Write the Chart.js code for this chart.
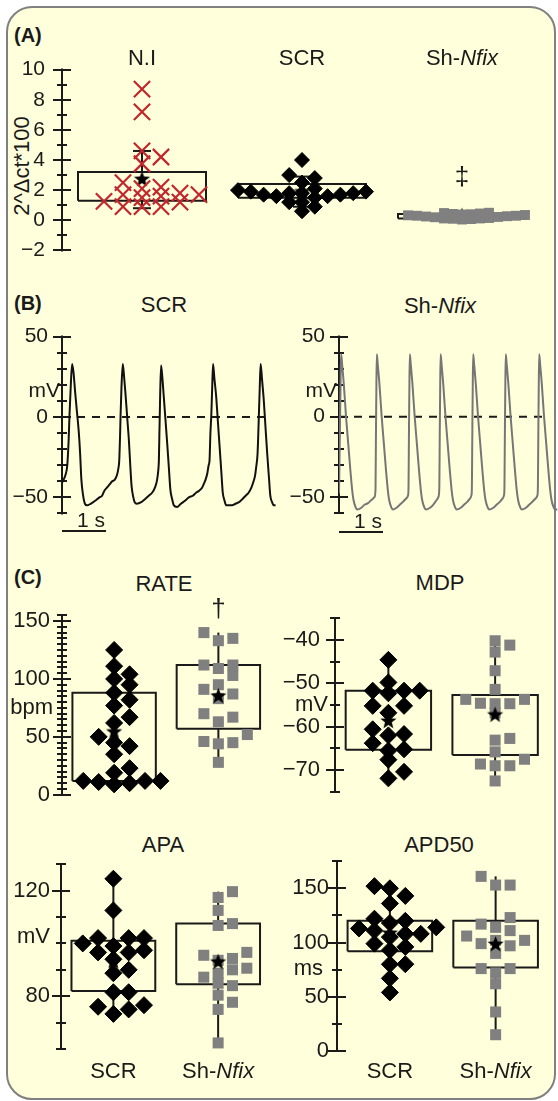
<!DOCTYPE html>
<html>
<head>
<meta charset="utf-8">
<script src="https://cdn.jsdelivr.net/npm/chart.js@4.4.1/dist/chart.umd.min.js"></script>
<style>
  html, body { margin: 0; background: #fff; }
  #fig { position: relative; width: 558px; height: 1101px; overflow: hidden;
         font-family: "Liberation Sans", Arial, sans-serif; color: #1a1a1a; }
  #frame { position: absolute; left: 6px; top: 6px; width: 550px; height: 1094px; box-sizing: border-box;
           border: 2px solid #808080; border-radius: 26px; background: #ffffdb; }
  canvas { position: absolute; }
  .t { position: absolute; font-size: 22px; line-height: 1; white-space: nowrap; transform: translate(-50%, -50%); }
  .p { position: absolute; font-size: 20px; font-weight: bold; line-height: 1; transform: translateY(-50%); }
</style>
</head>
<body>
<div id="fig">
  <div id="frame"></div>
  <div class="p" style="left:14px;top:35px">(A)</div>
  <div class="t" style="left:22px;top:166px;transform:translate(-50%,-50%) rotate(-90deg)">2^Δct*100</div>
  <div class="p" style="left:14px;top:303px">(B)</div>
  <div class="t" style="left:164px;top:305px">SCR</div>
  <div class="t" style="left:440px;top:306px">Sh-<i>Nfix</i></div>
  <div class="p" style="left:14px;top:577px">(C)</div>
  <div class="t" style="left:164px;top:584px">RATE</div>
  <div class="t" style="left:440px;top:583px">MDP</div>
  <div class="t" style="left:163px;top:845px">APA</div>
  <div class="t" style="left:439px;top:845px">APD50</div>
</div>
<script>
const FONT = '"Liberation Sans", Arial, sans-serif';
const INK = '#1a1a1a';
const RED = '#c1272d';
const GREY = '#808080';

// ---- (A) 2^dct*100 ----
const groupsA = ['N.I', 'SCR', 'Sh-Nfix'];
const niA = [8.7, 7.2, 4.6, 4.2, 3.75, 2.5, 2.2, 2.1, 1.8, 1.7, 1.7, 1.6, 1.5, 1.25, 1.2, 0.9, 0.9, 0.9];
const scrA = [4.0, 3.0, 2.8, 2.5, 2.1, 2.0, 1.9, 1.9, 1.8, 1.8, 1.8, 1.7, 1.7, 1.6, 1.6, 1.5, 1.2, 1.2, 0.9, 0.6];
const nfixA = [0.05, 0.08, 0.1, 0.12, 0.12, 0.15, 0.2, 0.22, 0.25, 0.27, 0.3, 0.3, 0.33, 0.35, 0.38, 0.4, 0.42, 0.45, 0.48, 0.5];
// boxes: [lower whisker, Q1, Q3, upper whisker]
const boxNiA = [0.8, 1.3, 3.2, 4.6];
const boxScrA = [0.9, 1.5, 2.4, 2.9];
const boxNfixA = [0.05, 0.12, 0.42, 0.5];
const sigA = [null, null, 2.8];
const ticksA = [-2, 0, 2, 4, 6, 8, 10];

// ---- (B) action potentials, time in s, mV ----
const scrTime = [0,0.08,0.12,0.15,0.17,0.2,0.23,0.26,0.3,0.34,0.38,0.41,0.44,0.48,0.52,0.57,0.65,0.76,0.85,0.91,
  0.96,1.02,1.08,1.14,1.2,1.25,1.28,1.3,1.32,1.33,1.35,1.38,1.41,1.44,1.48,1.52,1.55,1.58,1.62,1.65,
  1.7,1.8,1.89,1.97,2.05,2.11,2.16,2.19,2.2,2.21,2.22,2.23,2.25,2.28,2.31,2.35,2.39,2.43,2.46,2.5,
  2.54,2.61,2.7,2.8,2.88,2.97,3.05,3.11,3.18,3.23,3.26,3.3,3.33,3.35,3.37,3.39,3.41,3.43,3.46,3.5,
  3.54,3.58,3.62,3.65,3.69,3.73,3.79,3.86,3.94,4.02,4.1,4.17,4.24,4.3,4.35,4.38,4.41,4.44,4.46,4.47,
  4.49,4.51,4.54,4.58,4.62,4.66,4.7,4.73,4.77,4.81,4.85];
const scrMv = [-41,-36,-30,-15,1,20,33,28,15,3,-9,-22,-39,-49,-54,-55,-54,-52,-50,-49,
  -46,-44,-42,-40,-39,-36,-32,-27,-10,1,18,33,25,15,0,-15,-30,-43,-50,-53,
  -54,-53,-51,-49,-47,-44,-39,-32,-27,-12,1,15,32,24,13,-2,-17,-33,-45,-51,
  -55,-56,-54,-52,-50,-49,-47,-46,-44,-41,-39,-35,-30,-27,-10,1,18,33,24,13,
  -3,-19,-35,-47,-52,-55,-55,-55,-54,-53,-51,-49,-47,-44,-40,-37,-31,-23,-8,1,
  18,33,24,11,-6,-23,-38,-49,-53,-55,-55];
const nfixTime = [0,0.02,0.04,0.05,0.07,0.11,0.16,0.21,0.26,0.3,0.33,0.37,0.42,0.5,0.58,0.66,0.74,0.81,0.83,0.84,0.85,0.86,
  0.88,0.92,0.97,1.02,1.07,1.11,1.14,1.18,1.23,1.3,1.38,1.46,1.53,1.57,1.58,1.59,1.6,1.61,
  1.63,1.67,1.72,1.77,1.82,1.86,1.89,1.93,1.98,2.06,2.14,2.22,2.26,2.28,2.29,2.3,2.31,
  2.33,2.37,2.42,2.47,2.52,2.56,2.59,2.63,2.68,2.76,2.84,2.92,2.98,3.01,3.02,3.03,3.04,3.05,
  3.07,3.11,3.16,3.21,3.26,3.3,3.33,3.37,3.42,3.5,3.58,3.66,3.72,3.75,3.76,3.77,3.78,3.79,
  3.81,3.85,3.9,3.95,4.0,4.04,4.07,4.11,4.16,4.24,4.32,4.4,4.47,4.51,4.52,4.53,4.54,4.55,
  4.57,4.61,4.66,4.71,4.76,4.8,4.83,4.87,4.92,4.96];
const nfixMv = [-48,-10,30,39,33,20,0,-17,-34,-46,-52,-56,-58,-57,-55,-54,-52,-50,-45,-10,20,39,
  33,20,0,-17,-34,-46,-52,-56,-58,-57,-55,-53,-51,-49,-44,-10,20,39,
  33,20,0,-17,-34,-46,-52,-56,-58,-57,-55,-52,-50,-44,-10,20,39,
  33,20,0,-17,-34,-46,-52,-56,-58,-57,-55,-53,-51,-49,-44,-10,20,39,
  33,20,0,-17,-34,-46,-52,-56,-58,-57,-55,-53,-51,-49,-44,-10,20,39,
  33,20,0,-17,-34,-46,-52,-56,-58,-57,-55,-53,-51,-49,-44,-10,20,39,
  33,20,0,-17,-34,-46,-52,-56,-58,-58];
const zeroScr = [0, 4.68];
const zeroNfix = [0, 4.65];
const ticksB = [-50, 0, 50];

// ---- (C) electrophysiology ----
const groupsC = ['SCR', 'Sh-Nfix'];
const rateScr = [125, 111, 104, 100, 95, 88, 82, 77, 67, 62, 50, 45, 42, 35, 23, 19, 12, 12, 12, 11, 10, 9];
const rateNfix = [140, 135, 133, 112, 112, 109, 103, 95, 91, 87, 83, 70, 67, 63, 52, 46, 45, 44, 28];
const rateBoxScr = [9, 12, 88, 125];
const rateBoxNfix = [28, 57, 112, 140];
const rateSig = [null, 160];
const rateTicks = [0, 50, 100, 150];

const mdpScr = [-44.6, -49.8, -51.7, -51.7, -51.7, -52.3, -55.2, -55.2, -56.8, -60.6, -61.7, -62, -63.8, -65.5, -65.2, -67.6, -70.4, -71.9];
const mdpNfix = [-40.2, -41.2, -42.8, -47.1, -51.4, -53.7, -53.7, -54.6, -54.7, -54.7, -56.8, -62.7, -63.1, -65.8, -67.5, -68.6, -69, -69, -72.5];
const mdpBoxScr = [-72, -65.3, -51.7, -44.6];
const mdpBoxNfix = [-72.5, -66.5, -52.7, -41.2];
const mdpTicks = [-70, -60, -50, -40];

const apaScr = [124.5, 112.5, 102, 102, 102, 100, 99, 97.4, 96.6, 96.6, 94, 90, 88.7, 81.5, 81.5, 76.6, 76, 75, 73.3];
const apaNfix = [119.6, 117.4, 112.5, 107.5, 106.8, 96.6, 95.5, 94.3, 93.6, 90.6, 90, 88.7, 87.2, 84.9, 84, 80.4, 77.7, 75, 62.3];
const apaBoxScr = [73.3, 82, 101, 124.5];
const apaBoxNfix = [62.3, 84.5, 107.5, 119.6];
const apaTicks = [80, 120];

const apdScr = [152, 150, 143, 136, 122, 120, 118, 114, 113, 111, 108, 108, 105, 99, 96, 93, 80, 80, 67, 54];
const apdNfix = [161, 153, 153, 123, 117, 114, 111, 106, 102, 102, 99, 97, 90, 76, 76, 72, 62, 36, 15];
const apdBoxScr = [54, 92, 120, 152];
const apdBoxNfix = [15, 77, 120, 161];
const apdTicks = [0, 50, 100, 150];

// ---------------------------------------------------------------
const fig = document.getElementById('fig');

function fmt(v) { return v < 0 ? '\u2212' + Math.abs(v) : String(v); }

function starImage(r) {
  const c = document.createElement('canvas');
  const s = Math.ceil(r * 2 + 2);
  c.width = c.height = s;
  const g = c.getContext('2d');
  g.fillStyle = '#000';
  g.beginPath();
  for (let i = 0; i < 10; i++) {
    const rr = i % 2 ? r * 0.42 : r;
    const a = -Math.PI / 2 + i * Math.PI / 5;
    g.lineTo(s / 2 + rr * Math.cos(a), s / 2 + rr * Math.sin(a));
  }
  g.closePath();
  g.fill();
  return c;
}
const STAR = starImage(8.5);

const MK = {
  cross:    { style: 'crossRot', r: 11.5, fill: 'rgba(0,0,0,0)', line: RED, bw: 2.2, dx: 19, dy: 9.5 },
  diamondA: { style: 'rectRot', r: 7.5, fill: '#000', line: '#000', bw: 1, dx: 12.8, dy: 9.5 },
  squareA:  { style: 'rect', r: 7, fill: GREY, line: GREY, bw: 0, dx: 9, dy: 4.8 },
  diamond:  { style: 'rectRot', r: 8.5, fill: '#000', line: '#000', bw: 1, dx: 16, dy: 10 },
  square:   { style: 'rect', r: 7.8, fill: GREY, line: GREY, bw: 0, dx: 15, dy: 10 }
};

// simple beeswarm: spread equal-ish values sideways into slots
function swarm(values, center, dx, dy) {
  const idx = values.map((v, i) => i).sort((a, b) => values[a] - values[b]);
  const taken = [];
  const pts = [];
  idx.forEach(i => {
    const v = values[i];
    let k = 0, s = 0;
    while (true) {
      s = k === 0 ? 0 : (k % 2 ? (k + 1) / 2 : -k / 2);
      if (!taken.some(t => t.s === s && Math.abs(t.v - v) < dy)) break;
      k++;
    }
    taken.push({ s, v });
    pts.push({ x: center + s * dx, y: v });
  });
  return pts;
}

function seg(pts) {
  return { data: pts, showLine: true, borderColor: INK, borderWidth: 2, pointRadius: 0, order: 4, clip: false };
}

// starUnder: mean star drawn beneath the markers (panel A) instead of on top
function groupSets(values, box, c, mk, kx, ky, capPx, starUnder) {
  const [lo, q1, q3, hi] = box;
  const hw = 0.4;
  const sets = [
    seg([{x: c - hw, y: q1}, {x: c + hw, y: q1}, {x: c + hw, y: q3}, {x: c - hw, y: q3}, {x: c - hw, y: q1}]),
    seg([{x: c, y: q3}, {x: c, y: hi}]),
    seg([{x: c, y: q1}, {x: c, y: lo}])
  ];
  if (capPx) {
    const cw = capPx / kx;
    sets.push(seg([{x: c - cw, y: hi}, {x: c + cw, y: hi}]), seg([{x: c - cw, y: lo}, {x: c + cw, y: lo}]));
  }
  sets.push({
    data: swarm(values, c, mk.dx / kx, mk.dy / ky),
    pointStyle: mk.style, pointRadius: mk.r, pointBackgroundColor: mk.fill,
    pointBorderColor: mk.line, pointBorderWidth: mk.bw, order: 2, clip: false
  });
  const mean = values.reduce((a, b) => a + b, 0) / values.length;
  sets.push({ data: [{x: c, y: mean}], pointStyle: STAR, pointRadius: 8, order: starUnder ? 3 : 1, clip: false });
  return sets;
}

function traceSets(t, v, zero, color) {
  return [
    { data: t.map((x, i) => ({x, y: v[i]})), showLine: true, borderColor: color, borderWidth: 2,
      pointRadius: 0, cubicInterpolationMode: 'monotone', order: 1 },
    { data: zero.map(x => ({x, y: 0})), showLine: true, borderColor: INK, borderWidth: 2,
      borderDash: [8, 7], pointRadius: 0, order: 2 }
  ];
}

// crossing y axis, unit label, significance marks, time bar
function makeDecor(d) {
  return {
    id: 'decor',
    beforeDatasetsDraw(chart) {
      const ys = chart.scales.y, ctx = chart.ctx;
      const ax = Math.round(ys.right);
      ctx.save();
      ctx.strokeStyle = INK; ctx.lineWidth = 2;
      ctx.beginPath();
      ctx.moveTo(ax, ys.getPixelForValue(ys.max) - 1);
      ctx.lineTo(ax, ys.getPixelForValue(ys.min) + 1);
      ys.ticks.forEach(t => {
        const py = Math.round(ys.getPixelForValue(t.value));
        const L = d.labels.includes(t.value) ? 9 : 5;
        ctx.moveTo(ax - L, py); ctx.lineTo(ax + L, py);
      });
      ctx.stroke();
      if (d.unit) {
        ctx.fillStyle = INK;
        ctx.font = d.fs + 'px ' + FONT;
        ctx.textAlign = 'right'; ctx.textBaseline = 'middle';
        ctx.fillText(d.unit.text, ax - d.unit.gap, ys.getPixelForValue(d.unit.value));
      }
      ctx.restore();
    },
    afterDatasetsDraw(chart) {
      const xs = chart.scales.x, ys = chart.scales.y, ctx = chart.ctx;
      ctx.save();
      ctx.fillStyle = INK; ctx.strokeStyle = INK;
      if (d.marks) {
        ctx.font = '26px ' + FONT;
        ctx.textAlign = 'center'; ctx.textBaseline = 'middle';
        d.marks.forEach((v, i) => {
          if (v === null) return;
          ctx.fillText(d.markText, xs.getPixelForValue(i), ys.getPixelForValue(v));
        });
      }
      if (d.bar) {
        const x0 = xs.getPixelForValue(0), x1 = xs.getPixelForValue(d.bar.len);
        const by = Math.round(ys.getPixelForValue(ys.min) + d.bar.dy);
        ctx.lineWidth = 2;
        ctx.beginPath(); ctx.moveTo(x0, by); ctx.lineTo(x1, by); ctx.stroke();
        ctx.font = d.fs + 'px ' + FONT;
        ctx.textAlign = 'right'; ctx.textBaseline = 'alphabetic';
        ctx.fillText(d.bar.text, x1 - 1, by - 4);
      }
      ctx.restore();
    }
  };
}

function makeChart(spec) {
  const cv = document.createElement('canvas');
  cv.width = spec.w; cv.height = spec.h;
  cv.style.left = spec.left + 'px'; cv.style.top = spec.top + 'px';
  fig.appendChild(cv);
  const kx = (spec.xRight - spec.axisX) / (spec.x[1] - spec.x[0]);
  const ky = (spec.yBot - spec.yTop) / (spec.y[1] - spec.y[0]);
  const d = spec.decor;
  const chart = new Chart(cv, {
    type: 'scatter',
    data: { datasets: spec.build(kx, ky) },
    options: {
      responsive: false, animation: false, events: [],
      layout: { padding: { left: 0, top: spec.yTop - spec.top,
                           bottom: spec.top + spec.h - spec.yBot,
                           right: spec.left + spec.w - spec.xRight } },
      plugins: { legend: { display: false }, tooltip: { enabled: false } },
      scales: {
        x: { type: 'linear', display: false, min: spec.x[0], max: spec.x[1] },
        y: {
          type: 'linear', min: spec.y[0], max: spec.y[1],
          afterFit: s => { s.width = spec.axisX - spec.left; },
          grid: { display: false, drawTicks: false },
          border: { display: false },
          ticks: { stepSize: spec.step, autoSkip: false, maxTicksLimit: 200, padding: spec.pad,
                   font: { family: FONT, size: d.fs }, color: INK,
                   callback: v => d.labels.includes(v) ? fmt(v) : '' }
        }
      }
    },
    plugins: [makeDecor(d)]
  });
  if (spec.groups) {
    spec.groups.forEach((g, i) => {
      const el = document.createElement('div');
      el.className = 't';
      el.style.left = (spec.left + chart.scales.x.getPixelForValue(i)) + 'px';
      el.style.top = spec.labelY + 'px';
      const p = g.indexOf('-');
      if (p > 0) { el.textContent = g.slice(0, p + 1); const it = document.createElement('i'); it.textContent = g.slice(p + 1); el.appendChild(it); }
      else el.textContent = g;
      fig.appendChild(el);
    });
  }
  return chart;
}

// (A)
makeChart({
  left: 0, top: 40, w: 558, h: 240, axisX: 62, xRight: 542, yTop: 67, yBot: 258,
  x: [-0.5, 2.5], y: [-2, 10], step: 1, pad: 17, groups: groupsA, labelY: 58,
  decor: { labels: ticksA, fs: 21, marks: sigA, markText: '\u2021' },
  build: (kx, ky) => [
    ...groupSets(niA, boxNiA, 0, MK.cross, kx, ky, 9, true),
    ...groupSets(scrA, boxScrA, 1, MK.diamondA, kx, ky, 9, true),
    ...groupSets(nfixA, boxNfixA, 2, MK.squareA, kx, ky, 9, true)
  ]
});

// (B)
makeChart({
  left: 0, top: 310, w: 280, h: 230, axisX: 62, xRight: 280, yTop: 332, yBot: 514.6,
  x: [0, 4.95], y: [-60, 50], step: 10, pad: 14,
  decor: { labels: ticksB, fs: 21, unit: { text: 'mV', value: 16, gap: 2 }, bar: { len: 1, dy: 17.4, text: '1 s' } },
  build: () => traceSets(scrTime, scrMv, zeroScr, '#111')
});
makeChart({
  left: 278, top: 310, w: 280, h: 230, axisX: 339, xRight: 558, yTop: 328, yBot: 512.8,
  x: [0, 4.977], y: [-60, 50], step: 10, pad: 14,
  decor: { labels: ticksB, fs: 21, unit: { text: 'mV', value: 16, gap: 2 }, bar: { len: 1, dy: 19, text: '1 s' } },
  build: () => traceSets(nfixTime, nfixMv, zeroNfix, '#767676')
});

// (C)
function pair(scr, nfix, bScr, bNfix) {
  return (kx, ky) => [
    ...groupSets(scr, bScr, 0, MK.diamond, kx, ky, 0, false),
    ...groupSets(nfix, bNfix, 1, MK.square, kx, ky, 0, false)
  ];
}
makeChart({
  left: 0, top: 590, w: 280, h: 230, axisX: 62, xRight: 278, yTop: 611, yBot: 798,
  x: [-0.5, 1.5], y: [0, 155], step: 5, pad: 12,
  decor: { labels: rateTicks, fs: 22, unit: { text: 'bpm', value: 75, gap: 9 }, marks: rateSig, markText: '\u2020' },
  build: pair(rateScr, rateNfix, rateBoxScr, rateBoxNfix)
});
makeChart({
  left: 278, top: 590, w: 280, h: 230, axisX: 335, xRight: 553, yTop: 612, yBot: 804,
  x: [-0.5, 1.5], y: [-75, -35], step: 5, pad: 15,
  decor: { labels: mdpTicks, fs: 22, unit: { text: 'mV', value: -55, gap: 7 } },
  build: pair(mdpScr, mdpNfix, mdpBoxScr, mdpBoxNfix)
});
makeChart({
  left: 0, top: 840, w: 280, h: 240, axisX: 61, xRight: 280, yTop: 863.5, yBot: 1049,
  x: [-0.5, 1.5], y: [60, 130], step: 10, pad: 11, groups: groupsC, labelY: 1071,
  decor: { labels: apaTicks, fs: 22, unit: { text: 'mV', value: 102.5, gap: 11 } },
  build: pair(apaScr, apaNfix, apaBoxScr, apaBoxNfix)
});
makeChart({
  left: 278, top: 840, w: 280, h: 240, axisX: 337, xRight: 556, yTop: 859.7, yBot: 1051,
  x: [-0.5, 1.5], y: [0, 175], step: 25, pad: 8, groups: groupsC, labelY: 1071,
  decor: { labels: apdTicks, fs: 22, unit: { text: 'ms', value: 76, gap: 14 } },
  build: pair(apdScr, apdNfix, apdBoxScr, apdBoxNfix)
});
</script>
</body>
</html>
